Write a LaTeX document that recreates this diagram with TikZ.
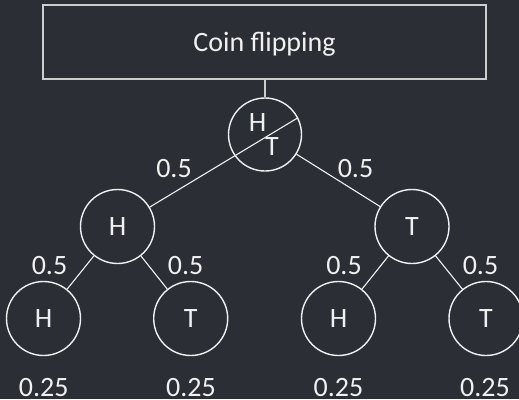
\documentclass[tikz,border=0pt]{standalone}
\usepackage{fontspec}
\setmainfont{Carlito}
\definecolor{bg}{RGB}{43,46,53}
\definecolor{fg}{RGB}{240,240,240}
\definecolor{boxc}{RGB}{205,205,205}
\begin{document}
\begin{tikzpicture}[x=1pt,y=-1pt,
  txt/.style={font=\fontsize{28}{33}\selectfont, text=fg},
  coin/.style={circle, draw=fg, line width=1.4pt, minimum size=74pt, inner sep=0pt, txt},
  lbl/.style={inner sep=0pt, txt, text height=18pt, text depth=0pt},
  edgeline/.style={draw=fg, line width=1.1pt}]
\fill[bg] (0,0) rectangle (519,399);
\useasboundingbox (0,0) rectangle (519,399);
\node[draw=boxc, line width=1.3pt, minimum width=443pt, minimum height=74pt, inner sep=0pt, txt, text height=18pt, text depth=0pt] (title) at (264.5,42) {Coin flipping};
\node[coin, minimum size=73pt] (root) at (265,134.5) {};
\node[lbl] (rh) at (257.5,122.5) {H};
\node[lbl] (rt) at (272,146) {T};
\node[coin] (L1a) at (117.5,226.5) {H};
\node[coin] (L1b) at (412,226.5) {T};
\node[coin] (L2a) at (43.5,318.5) {H};
\node[coin] (L2b) at (190.7,318.5) {T};
\node[coin] (L2c) at (338.5,318.5) {H};
\node[coin] (L2d) at (486,318.5) {T};
\draw[draw=boxc, line width=1.3pt] (root.north |- title.south) -- (root.north);
\draw[edgeline] (L1a) -- (root.27);
\draw[edgeline] (root) -- (L1b);
\draw[edgeline] (L1a) -- (L2a);
\draw[edgeline] (L1a) -- (L2b);
\draw[edgeline] (L1b) -- (L2c);
\draw[edgeline] (L1b) -- (L2d);
\node[lbl] (p1) at (174,168) {0.5};
\node[lbl] (p2) at (355.5,168) {0.5};
\node[lbl] (p3) at (49.5,265) {0.5};
\node[lbl] (p4) at (185.7,265) {0.5};
\node[lbl] (p5) at (344,265) {0.5};
\node[lbl] (p6) at (480.5,265) {0.5};
\node[lbl] (q1) at (43.7,387.5) {0.25};
\node[lbl] (q2) at (191,387.5) {0.25};
\node[lbl] (q3) at (338.5,387.5) {0.25};
\node[lbl] (q4) at (485,387.5) {0.25};
\end{tikzpicture}
\end{document}
